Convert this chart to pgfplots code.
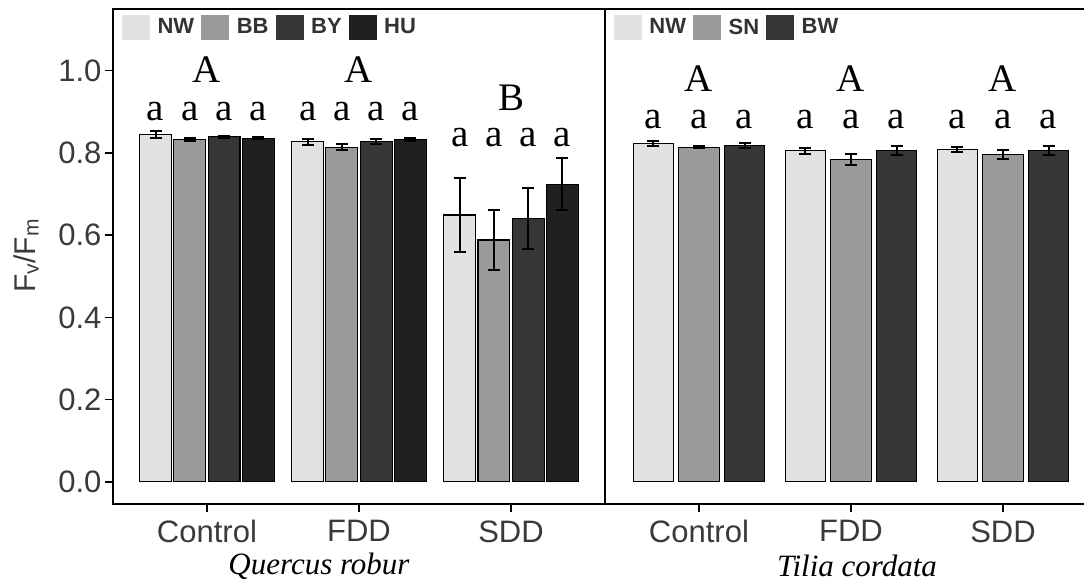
\documentclass[border=0pt]{standalone}
\usepackage{pgfplots}
\pgfplotsset{compat=1.18}
\usepackage{pgfplotstable}
\usepackage{fontspec}
\setmainfont{Liberation Serif}
\setsansfont{Liberation Sans}
\newfontfamily\tickfont{Liberation Sans}
\definecolor{cNW}{HTML}{E2E2E2}
\definecolor{cBB}{HTML}{9A9A9A}
\definecolor{cBY}{HTML}{363636}
\definecolor{cHU}{HTML}{202020}
\definecolor{txt}{HTML}{3A3A3A}
\definecolor{legtxt}{HTML}{333333}

% Quercus robur
\pgfplotstableread{
x y e
1 0.845 0.009
2 0.827 0.007
3 0.649 0.091
}\qNW
\pgfplotstableread{
x y e
1 0.832 0.003
2 0.814 0.007
3 0.588 0.073
}\qBB
\pgfplotstableread{
x y e
1 0.839 0.002
2 0.827 0.006
3 0.641 0.074
}\qBY
\pgfplotstableread{
x y e
1 0.836 0.002
2 0.832 0.004
3 0.724 0.063
}\qHU
% Tilia cordata
\pgfplotstableread{
x y e
1 0.822 0.006
2 0.805 0.007
3 0.809 0.006
}\tNW
\pgfplotstableread{
x y e
1 0.814 0.003
2 0.784 0.013
3 0.796 0.012
}\tSN
\pgfplotstableread{
x y e
1 0.818 0.006
2 0.805 0.011
3 0.805 0.011
}\tBW

\tikzset{letter/.style={font=\fontsize{39}{41}\selectfont, anchor=base, inner sep=0pt}}
\pgfplotsset{
  panel/.style={
    scale only axis, height=495pt,
    ymin=-0.054, ymax=1.150,
    xmin=0.382,
    xtick={1,2,3}, xticklabels={Control,FDD,SDD},
    ytick={0,0.2,0.4,0.6,0.8,1.0},
    yticklabel style={/pgf/number format/.cd, fixed, fixed zerofill, precision=1},
    /pgf/number format/assume math mode=true,
    tick align=outside, major tick length=8pt,
    xtick pos=bottom, ytick pos=left,
    tick style={line width=1.6pt, black},
    ticklabel style={font=\tickfont\fontsize{31}{36}\selectfont, text=txt},
    xticklabel style={yshift=-5pt},
    axis line style={line width=1.8pt},
    clip=false,
    ybar, 
    legend style={at={(0.018,0.989)}, anchor=north west, draw=none, fill=none,
      inner sep=0pt, font=\tickfont\bfseries\fontsize{22}{25}\selectfont, text=legtxt,
      /tikz/every even column/.append style={column sep=5pt}},
    legend columns=-1,
    legend image code/.code={\fill[##1,draw=none] (0pt,-12.5pt) rectangle (28pt,12.5pt); \path (33pt,0pt);},
    error bars/y dir=both, error bars/y explicit,
    error bars/error bar style={line width=2pt, black},
    error bars/error mark options={rotate=90, mark size=6pt, line width=2pt, black},
  },
}

\begin{document}
\begin{tikzpicture}
\useasboundingbox (0pt,0pt) rectangle (1084pt,583pt);

% ---- Quercus robur ----
\begin{axis}[panel, at={(113pt,79pt)}, anchor=south west, width=492pt,
  xmax=3.618, bar width=0.21]
\addplot[fill=cNW, draw=black, line width=1.1pt, bar shift=-0.3375] table[x=x,y=y,y error=e]{\qNW};
\addplot[fill=cBB, draw=black, line width=1.1pt, bar shift=-0.1125] table[x=x,y=y,y error=e]{\qBB};
\addplot[fill=cBY, draw=black, line width=1.1pt, bar shift=0.1125] table[x=x,y=y,y error=e]{\qBY};
\addplot[fill=cHU, draw=black, line width=1.1pt, bar shift=0.3375] table[x=x,y=y,y error=e]{\qHU};
\legend{NW,BB,BY,HU}
% group letters
\node[letter] at (axis cs:1,0.971) {A};
\node[letter] at (axis cs:2,0.971) {A};
\node[letter] at (axis cs:3,0.904) {B};
% bar letters
\node[letter] at (axis cs:0.6625,0.878) {a};
\node[letter] at (axis cs:0.8875,0.878) {a};
\node[letter] at (axis cs:1.1125,0.878) {a};
\node[letter] at (axis cs:1.3375,0.878) {a};
\node[letter] at (axis cs:1.6625,0.878) {a};
\node[letter] at (axis cs:1.8875,0.878) {a};
\node[letter] at (axis cs:2.1125,0.878) {a};
\node[letter] at (axis cs:2.3375,0.878) {a};
\node[letter] at (axis cs:2.6625,0.815) {a};
\node[letter] at (axis cs:2.8875,0.815) {a};
\node[letter] at (axis cs:3.1125,0.815) {a};
\node[letter] at (axis cs:3.3375,0.815) {a};
\end{axis}

% ---- Tilia cordata ----
\begin{axis}[panel, at={(605pt,79pt)}, anchor=south west, width=479pt,
  xmax=3.533, bar width=0.265, ymajorticks=false,
  axis line style={draw=none},
  after end axis/.code={\draw[line width=1.8pt] (rel axis cs:1.02,0) -- (rel axis cs:0,0) -- (rel axis cs:0,1) -- (rel axis cs:1.02,1);}]
\addplot[fill=cNW, draw=black, line width=1.1pt, bar shift=-0.3] table[x=x,y=y,y error=e]{\tNW};
\addplot[fill=cBB, draw=black, line width=1.1pt, bar shift=0] table[x=x,y=y,y error=e]{\tSN};
\addplot[fill=cBY, draw=black, line width=1.1pt, bar shift=0.3] table[x=x,y=y,y error=e]{\tBW};
\legend{NW,SN,BW}
\node[letter] at (axis cs:1,0.949) {A};
\node[letter] at (axis cs:2,0.949) {A};
\node[letter] at (axis cs:3,0.949) {A};
\node[letter] at (axis cs:0.7,0.860) {a};
\node[letter] at (axis cs:1.0,0.860) {a};
\node[letter] at (axis cs:1.3,0.860) {a};
\node[letter] at (axis cs:1.7,0.860) {a};
\node[letter] at (axis cs:2.0,0.860) {a};
\node[letter] at (axis cs:2.3,0.860) {a};
\node[letter] at (axis cs:2.7,0.860) {a};
\node[letter] at (axis cs:3.0,0.860) {a};
\node[letter] at (axis cs:3.3,0.860) {a};
\end{axis}

% species labels
\node[font=\itshape\fontsize{31}{34}\selectfont] at (319pt,17pt) {Quercus robur};
\node[font=\itshape\fontsize{31}{34}\selectfont] at (857pt,17pt) {Tilia cordata};
% y label
\node[rotate=90, font=\tickfont\fontsize{30}{34}\selectfont, text=txt] at (26pt,327pt) {F\textsubscript{v}/F\textsubscript{m}};
\end{tikzpicture}
\end{document}
